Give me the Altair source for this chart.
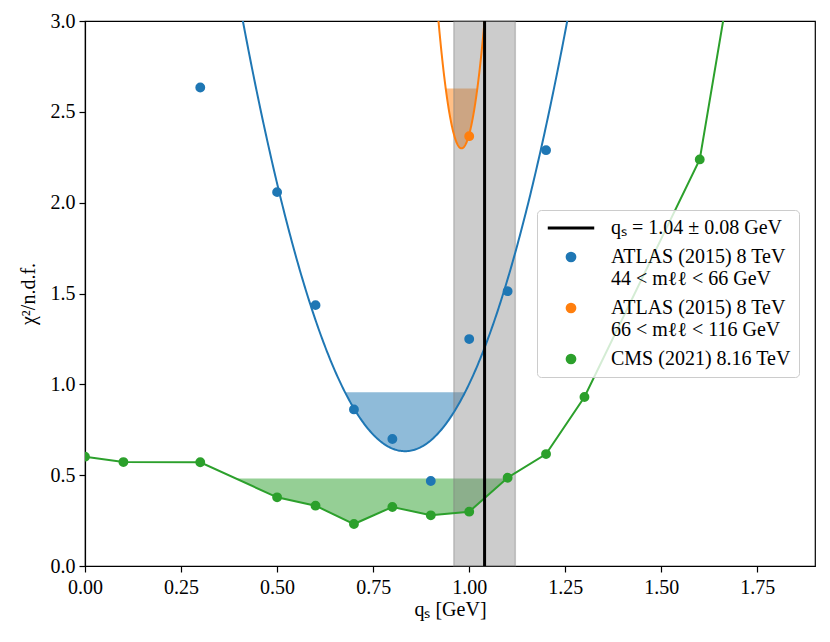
import altair as alt
import numpy as np
import pandas as pd

# ---------------- data ----------------
cms_x = [0.0, 0.1, 0.3, 0.5, 0.6, 0.7, 0.8, 0.9, 1.0, 1.1, 1.2, 1.3, 1.6, 1.7]
cms_y = [0.602, 0.572, 0.571, 0.378, 0.332, 0.231, 0.325, 0.279, 0.299, 0.486, 0.616, 0.930, 2.238, 3.49]

atlas_low_x = [0.3, 0.5, 0.6, 0.7, 0.8, 0.9, 1.0, 1.1, 1.2]
atlas_low_y = [2.634, 2.058, 1.436, 0.862, 0.699, 0.468, 1.249, 1.513, 2.289]

atlas_high_x = [1.0]
atlas_high_y = [2.366]

# parabolic fits (vertex x, vertex y, curvature) and fill thresholds
fit_low = dict(x0=0.833, y0=0.632, a=13.29, thr=0.956, lo=0.38, hi=1.29)
fit_high = dict(x0=0.980, y0=2.299, a=194.7, thr=2.629, lo=0.90, hi=1.06)
cms_thr = 0.481

qs_best = 1.04
qs_err = 0.08

labels = [
    "qₛ = 1.04 ± 0.08 GeV",
    "ATLAS (2015) 8 TeV|44 < mℓℓ < 66 GeV",
    "ATLAS (2015) 8 TeV|66 < mℓℓ < 116 GeV",
    "CMS (2021) 8.16 TeV",
]
colors = ["#000000", "#1f77b4", "#ff7f0e", "#2ca02c"]
shapes = ["M-6,0L6,0", "circle", "circle", "circle"]

x_ticks = [0.0, 0.25, 0.5, 0.75, 1.0, 1.25, 1.5, 1.75]
y_ticks = [0.0, 0.5, 1.0, 1.5, 2.0, 2.5, 3.0]

FONT = "Liberation Serif"
W, H = 730, 545

# ---------------- derived tables ----------------
pts = pd.concat([
    pd.DataFrame({"x": atlas_low_x, "y": atlas_low_y, "series": labels[1]}),
    pd.DataFrame({"x": atlas_high_x, "y": atlas_high_y, "series": labels[2]}),
    pd.DataFrame({"x": cms_x, "y": cms_y, "series": labels[3]}),
], ignore_index=True)

cms_df = pd.DataFrame({"x": cms_x, "y": cms_y})


def fit_curve(f, n=300):
    xs = np.linspace(f["lo"], f["hi"], n)
    return pd.DataFrame({"x": xs, "y": f["a"] * (xs - f["x0"]) ** 2 + f["y0"]})


def fit_fill(f, n=200):
    hw = np.sqrt((f["thr"] - f["y0"]) / f["a"])
    xs = np.linspace(f["x0"] - hw, f["x0"] + hw, n)
    return pd.DataFrame({"x": xs, "y": f["a"] * (xs - f["x0"]) ** 2 + f["y0"], "thr": f["thr"]})


def poly_fill(xv, yv, thr):
    fx, fy = [], []
    for i in range(len(xv)):
        if i > 0:
            y0, y1 = yv[i - 1], yv[i]
            if (y0 - thr) * (y1 - thr) < 0:
                xc = xv[i - 1] + (xv[i] - xv[i - 1]) * (thr - y0) / (y1 - y0)
                fx.append(xc)
                fy.append(thr)
        if yv[i] <= thr:
            fx.append(xv[i])
            fy.append(yv[i])
    return pd.DataFrame({"x": fx, "y": fy, "thr": thr})


low_curve = fit_curve(fit_low)
high_curve = fit_curve(fit_high)
low_fill = fit_fill(fit_low)
high_fill = fit_fill(fit_high)
cms_fill = poly_fill(cms_x, cms_y, cms_thr)
band_df = pd.DataFrame({"lo": [qs_best - qs_err], "hi": [qs_best + qs_err]})
qs_df = pd.DataFrame({"x": [qs_best]})

# ---------------- chart ----------------
xenc = alt.X("x:Q", scale=alt.Scale(domain=[0, 1.9], nice=False, zero=False),
             axis=alt.Axis(values=x_ticks, format=".2f", title="qₛ [GeV]", grid=False,
                           labelFlush=False))
yenc = alt.Y("y:Q", scale=alt.Scale(domain=[0, 3], nice=False),
             axis=alt.Axis(values=y_ticks, format=".1f", title="χ²/n.d.f.", grid=False,
                           labelFlush=False))

band = alt.Chart(band_df).mark_rect(
    fill="#808080", fillOpacity=0.4, stroke="#808080", strokeOpacity=0.4, strokeWidth=1.5
).encode(x="lo:Q", x2="hi:Q", y=alt.datum(0), y2=alt.datum(3))

fill_low = alt.Chart(low_fill).mark_area(color=colors[1], opacity=0.5).encode(
    x=xenc, y=yenc, y2="thr:Q")
fill_high = alt.Chart(high_fill).mark_area(color=colors[2], opacity=0.5).encode(
    x="x:Q", y="y:Q", y2="thr:Q")
fill_cms = alt.Chart(cms_fill).mark_area(color=colors[3], opacity=0.5).encode(
    x="x:Q", y="y:Q", y2="thr:Q")

line_low = alt.Chart(low_curve).mark_line(color=colors[1], strokeWidth=2, clip=True).encode(
    x="x:Q", y="y:Q")
line_high = alt.Chart(high_curve).mark_line(color=colors[2], strokeWidth=2, clip=True).encode(
    x="x:Q", y="y:Q")
line_cms = alt.Chart(cms_df).mark_line(color=colors[3], strokeWidth=2, clip=True).encode(
    x="x:Q", y="y:Q")

rule = alt.Chart(qs_df).mark_rule(color="black", strokeWidth=3).encode(x="x:Q")

leg = alt.Legend(
    title=None, orient="none", legendX=452, legendY=189,
    labelExpr="split(datum.label, '|')",
    labelFont=FONT, labelFontSize=20, labelColor="black", labelLimit=0,
    labelOffset=30, symbolSize=60, symbolStrokeWidth=3, symbolOffset=16,
    rowPadding=9, padding=8,
    fillColor="rgba(255,255,255,0.8)", strokeColor="#cccccc", cornerRadius=4,
)
cscale = alt.Scale(domain=labels, range=colors)
points = alt.Chart(pts).mark_point(filled=True, size=62, opacity=1, clip=True).encode(
    x="x:Q", y="y:Q",
    color=alt.Color("series:N", scale=cscale, legend=leg, sort=labels),
    stroke=alt.Stroke("series:N", scale=cscale, legend=leg, sort=labels),
    shape=alt.Shape("series:N", scale=alt.Scale(domain=labels, range=shapes), legend=leg, sort=labels),
)

chart = alt.layer(
    fill_low, fill_high, fill_cms, band, line_low, line_high, line_cms, rule, points
).properties(
    width=W, height=H,
    autosize=alt.AutoSizeParams(type="none"),
    padding={"left": 77, "top": 13, "right": 7, "bottom": 66},
).configure_view(
    stroke="black", strokeWidth=1.2
).configure_axis(
    labelFont=FONT, labelFontSize=20, labelColor="black",
    titleFont=FONT, titleFontSize=20, titleColor="black", titleFontWeight="normal",
    tickColor="black", tickSize=6, tickWidth=1.2,
    domainColor="black", domainWidth=1.2,
).configure_axisX(
    labelPadding=5, titlePadding=2,
).configure_axisY(
    labelPadding=4, titlePadding=12,
)

chart.save("out.html", embed_options={"renderer": "svg", "actions": False})
